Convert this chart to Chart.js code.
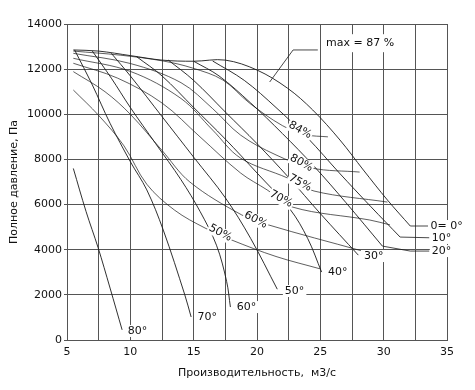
<!DOCTYPE html>
<html>
<head>
<meta charset="utf-8">
<script src="https://cdn.jsdelivr.net/npm/chart.js@4.4.0/dist/chart.umd.min.js"></script>
<style>
  body { margin: 0; background: #fff; }
</style>
</head>
<body>
<canvas id="myChart" width="475" height="390"></canvas>
<script>
// blade angle curves: [flow m3/s, pressure Pa]
const angle0 = [[5.5,12850],[7.5,12800],[10,12600],[12.5,12400],[15,12350],[17.5,12400],[20,11960],[22.4,11160],[24.4,10190],[26.55,8860],[28.4,7530],[30.3,6200],[32.1,5050]];
const angle10 = [[16.5,12360],[19,11500],[21.5,10300],[24,8950],[26.5,7400],[29,5900],[31.3,4560]];
const angle20 = [[15,12350],[17,11700],[19.5,10500],[22,9150],[24.5,7700],[27,6100],[29.9,4160]];
const angle30 = [[13,12400],[15,11500],[17.5,10100],[20,8700],[22.5,7200],[25,5600],[28,3760]];
const angle40 = [[10.5,12550],[12.5,11700],[15,10300],[17.5,8900],[20,7400],[22.6,5800],[24,4500],[25.1,3010]];
const angle50 = [[8.5,12700],[10,11700],[12.5,9900],[15,8100],[17.5,6300],[19.5,4500],[21.6,2250]];
const angle60 = [[7,12800],[8.5,11600],[10,10300],[12,8700],[14,7100],[15.5,5700],[16.8,4200],[17.6,2600],[17.9,1460]];
const angle70 = [[5.6,12850],[7,11300],[8.4,9600],[10,7900],[11.3,6650],[12.6,4870],[14.3,2000],[14.8,1020]];
const angle80 = [[5.5,7600],[6.5,5700],[7.45,4100],[8.4,2300],[9.35,450]];

// efficiency lines
const eff84 = [[5.5,12800],[9.2,12620],[12.6,12360],[14.9,12050],[17.3,11520],[19.4,10500],[22,9500],[23.8,9100],[25.6,9000]];
const eff80 = [[5.5,12700],[10,12250],[14,11400],[16.5,10250],[18.7,9080],[21.5,8200],[24.3,7620],[28.1,7440]];
const eff75 = [[5.5,12480],[10,11900],[14,10700],[16.5,9300],[18.7,8060],[22.4,7180],[24.5,6600],[30.3,6110]];
const eff70 = [[5.5,12260],[9,11600],[12.5,10500],[15.5,9000],[18.7,7400],[20.8,6650],[22.8,5890],[28.9,5316],[30.5,5100]];
const eff60 = [[5.5,11890],[8,11000],[10,10000],[12.5,8400],[14.7,7000],[18.8,5540],[20.9,5100],[28.2,3960]];
const eff50 = [[5.5,11075],[7.5,9950],[9.5,8600],[11.3,6900],[13.5,5750],[15.9,4960],[18,4430],[21.5,3700],[25,3150]];

// leader lines
const leaderMax = [[21,11430],[22.85,12850],[24.8,12850]];
const leader0 = [[32.1,5050],[33.5,5050]];
const leader10 = [[31.3,4560],[33.6,4530]];
const leader20 = [[29.9,4160],[32.1,3940],[33.6,3940]];

const angleNames = ['0= 0°','10°','20°','30°','40°','50°','60°','70°','80°'];
const angleNameAt = [[33.7,5050],[33.8,4520],[33.8,3940],[28.45,3720],[25.6,3010],[22.2,2170],[18.4,1460],[15.3,1020],[9.8,400]];
const effNames = ['84%','80%','75%','70%','60%','50%'];
const effNameAt = [[23.4,9300],[23.5,7840],[23.4,6955],[21.9,6250],[19.9,5316],[17.1,4740]];
const maxName = 'max = 87 %';
const maxNameAt = [25.45,13150];

const xTicks = [5,10,15,20,25,30,35];

const FONT = '"DejaVu Sans", sans-serif';

function series(pts, width) {
  return {
    data: pts.map(p => ({x: p[0], y: p[1]})),
    showLine: true,
    borderColor: '#1a1a1a',
    borderWidth: width || 0.8,
    pointRadius: 0,
    fill: false,
    tension: 0.35
  };
}
function leader(pts) {
  const s = series(pts, 0.8);
  s.tension = 0;
  return s;
}

const labelPlugin = {
  id: 'curveLabels',
  afterDatasetsDraw(chart) {
    const ctx = chart.ctx;
    const xs = chart.scales.x, ys = chart.scales.y;
    ctx.save();
    ctx.font = '11px ' + FONT;
    ctx.textBaseline = 'middle';
    // percent labels, rotated along lines
    effNames.forEach((t, i) => {
      const px = xs.getPixelForValue(effNameAt[i][0]);
      const py = ys.getPixelForValue(effNameAt[i][1]);
      ctx.save();
      ctx.translate(px, py);
      ctx.rotate(28 * Math.PI / 180);
      const w = ctx.measureText(t).width;
      ctx.fillStyle = '#fff';
      ctx.fillRect(-w / 2 - 1, -6, w + 2, 12);
      ctx.fillStyle = '#111';
      ctx.textAlign = 'center';
      ctx.fillText(t, 0, 0);
      ctx.restore();
    });
    // angle labels
    ctx.textAlign = 'left';
    angleNames.forEach((t, i) => {
      const px = xs.getPixelForValue(angleNameAt[i][0]);
      const py = ys.getPixelForValue(angleNameAt[i][1]);
      const w = ctx.measureText(t).width;
      ctx.fillStyle = '#fff';
      ctx.fillRect(px - 2, py - 6, w + 4, 12);
      ctx.fillStyle = '#111';
      ctx.fillText(t, px, py);
    });
    // max label
    const mx = xs.getPixelForValue(maxNameAt[0]);
    const my = ys.getPixelForValue(maxNameAt[1]);
    const mw = ctx.measureText(maxName).width;
    ctx.fillStyle = '#fff';
    ctx.fillRect(mx - 4, my - 9, mw + 8, 18);
    ctx.fillStyle = '#111';
    ctx.fillText(maxName, mx, my);
    ctx.restore();
  }
};

const datasets = [
  angle0, angle10, angle20, angle30, angle40, angle50, angle60, angle70, angle80
].map(a => series(a, 0.9)).concat(
  [eff84, eff80, eff75, eff70, eff60, eff50].map(e => series(e, 0.7)),
  [leaderMax, leader0, leader10, leader20].map(leader)
);

new Chart(document.getElementById('myChart').getContext('2d'), {
  type: 'scatter',
  data: { datasets: datasets },
  options: {
    responsive: false,
    animation: false,
    layout: { padding: { top: 24, right: 28, left: 0, bottom: 0 } },
    plugins: { legend: { display: false }, tooltip: { enabled: false } },
    scales: {
      x: {
        type: 'linear',
        min: 5, max: 35,
        afterBuildTicks(scale) {
          const t = [];
          for (let v = 5; v <= 35; v += 2.5) t.push({ value: v });
          scale.ticks = t;
        },
        afterFit(scale) { scale.height = 50; },
        ticks: {
          color: '#111',
          font: { family: FONT, size: 11 },
          padding: 6,
          maxRotation: 0,
          autoSkip: false,
          callback: v => xTicks.includes(v) ? String(v) : ''
        },
        grid: { color: '#555', lineWidth: 1, tickLength: 0, drawTicks: false },
        border: { color: '#555' },
        title: {
          display: true,
          text: 'Производительность,  м3/с',
          color: '#111',
          font: { family: FONT, size: 11 },
          padding: { top: 0, bottom: 10 }
        }
      },
      y: {
        type: 'linear',
        min: 0, max: 14000,
        afterFit(scale) { scale.width = 67; },
        ticks: {
          stepSize: 2000,
          color: '#111',
          font: { family: FONT, size: 11 },
          padding: 2,
          callback: v => String(v)
        },
        grid: { color: '#555', lineWidth: 1, tickLength: 3 },
        border: { color: '#555' },
        title: {
          display: true,
          text: 'Полное давление, Па',
          color: '#111',
          font: { family: FONT, size: 11 },
          padding: { top: 8, bottom: 0 }
        }
      }
    }
  },
  plugins: [labelPlugin]
});
</script>
</body>
</html>
